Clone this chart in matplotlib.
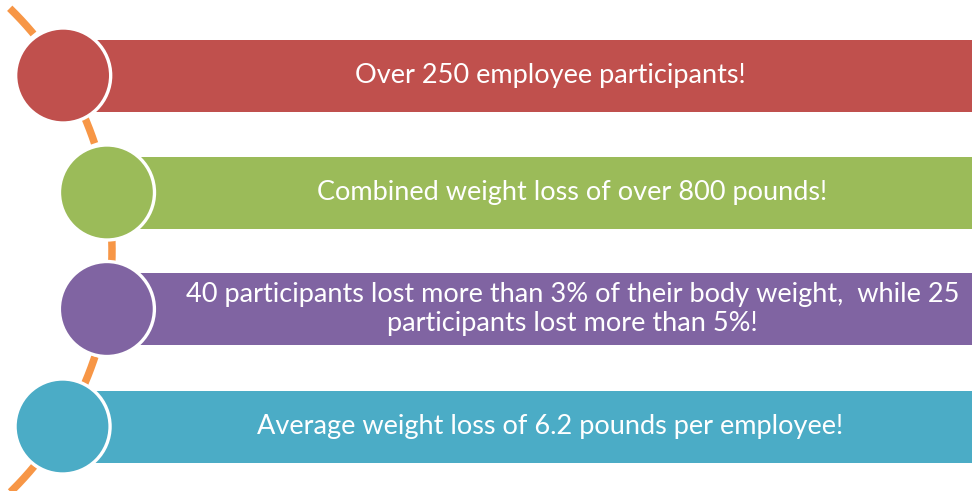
import numpy as np
import matplotlib.pyplot as plt
from matplotlib.patches import Circle, Rectangle

# textos e cores de cada faixa
labels = [
    "Over 250 employee participants!",
    "Combined weight loss of over 800 pounds!",
    "40 participants lost more than 3% of their body weight,  while 25\nparticipants lost more than 5%!",
    "Average weight loss of 6.2 pounds per employee!",
]
colors = ["#C0504D", "#9BBB59", "#8064A2", "#4BACC6"]
arc_color = "#F79646"

W, H = 972, 491
fig = plt.figure(figsize=(W / 100, H / 100), dpi=100)
ax = fig.add_axes([0, 0, 1, 1])
ax.set_xlim(0, W)
ax.set_ylim(H, 0)
ax.axis("off")

# arco tracejado (circulo grande com centro fora da figura)
cx, cy, R = -226, 250.5, 338
t = np.linspace(-0.799, 0.799, 400)
ax.plot(cx + R * np.cos(t), cy + R * np.sin(t), color=arc_color, lw=5.4,
        dashes=(4.67, 0.93), dash_capstyle="butt", zorder=1)

bar_h = 72
centers_y = [75.5, 192.5, 309, 426.5]
for lab, col, yc in zip(labels, colors, centers_y):
    xc = cx + np.sqrt(R ** 2 - (yc - cy) ** 2)
    ax.add_patch(Rectangle((xc, yc - bar_h / 2), W - xc, bar_h, color=col, lw=0, zorder=2))
    ax.add_patch(Circle((xc, yc), 47.5, facecolor=col, edgecolor="white", lw=2.4, zorder=3))
    ax.text((xc + W + 66) / 2, yc, lab, color="white", fontsize=19.5, family="Lato",
            ha="center", va="center", linespacing=1.22, zorder=4)

fig.savefig("out.png", dpi=100, facecolor="white")
